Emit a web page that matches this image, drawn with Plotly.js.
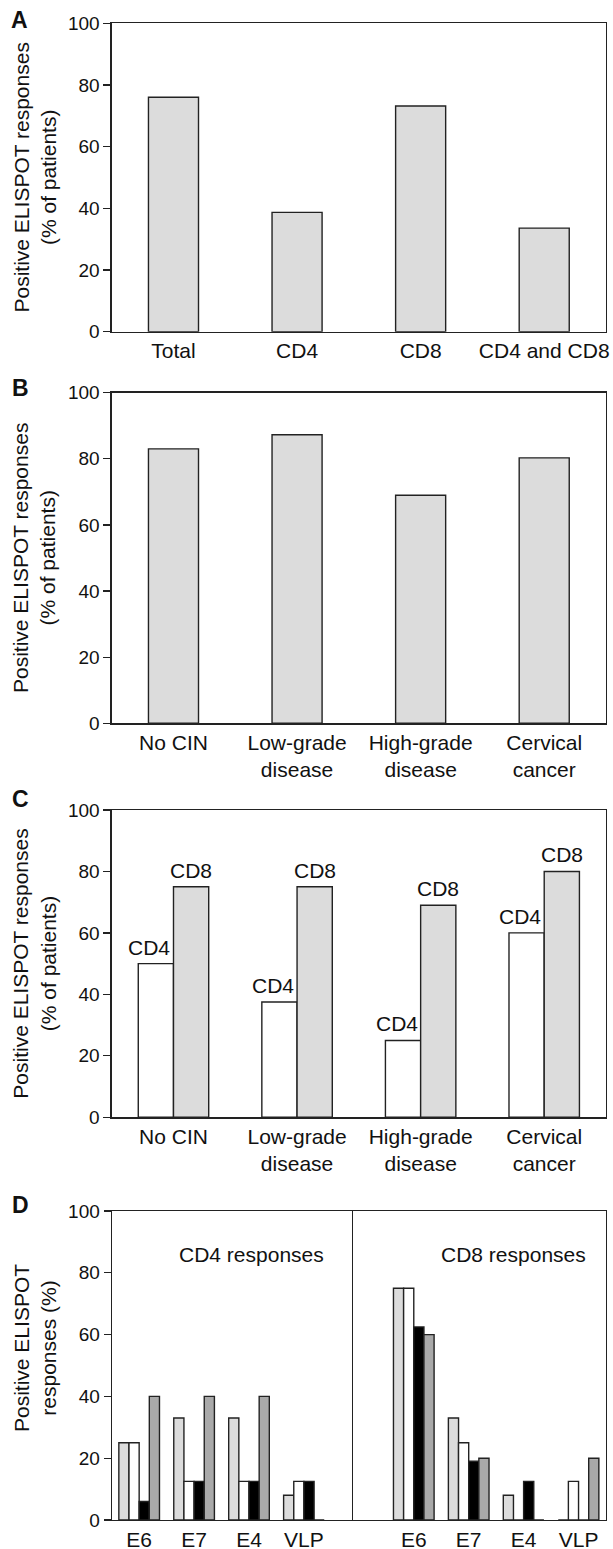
<!DOCTYPE html>
<html>
<head>
<meta charset="utf-8">
<script src="https://cdn.plot.ly/plotly-3.0.1.min.js"></script>
<style>html,body{margin:0;padding:0;background:#fff;}</style>
</head>
<body>
<div id="chart" style="width:613px;height:1549px;"></div>
<script>
// ---------- DATA ----------
const catsA = ['Total', 'CD4', 'CD8', 'CD4 and CD8'];
const valsA = [76, 38.7, 73.2, 33.6];

const catsB = ['No CIN', 'Low-grade<br>disease', 'High-grade<br>disease', 'Cervical<br>cancer'];
const valsB = [83, 87.3, 69, 80.3];

const catsC = ['No CIN', 'Low-grade<br>disease', 'High-grade<br>disease', 'Cervical<br>cancer'];
const cd4C = [50, 37.5, 25, 60];
const cd8C = [75, 75, 69, 80];
const seriesC = ['CD4', 'CD8'];

const antigensD = ['E6', 'E7', 'E4', 'VLP'];
const groupNamesD = ['No CIN', 'Low-grade disease', 'High-grade disease', 'Cervical cancer'];
// CD4 responses
const cd4D_g1 = [25, 33, 33, 8];
const cd4D_g2 = [25, 12.5, 12.5, 12.5];
const cd4D_g3 = [6, 12.5, 12.5, 12.5];
const cd4D_g4 = [40, 40, 40, 0];
// CD8 responses
const cd8D_g1 = [75, 33, 8, 0];
const cd8D_g2 = [75, 25, 0, 12.5];
const cd8D_g3 = [62.5, 19, 12.5, 0];
const cd8D_g4 = [60, 20, 0, 20];

// ---------- LAYOUT HELPERS ----------
const W = 613, H = 1549;
const FONT = 'Liberation Sans, Arial, Helvetica, sans-serif';
const px = x => x / W;
const py = y => 1 - y / H;
const XL = 111.7, XR = 606, XD = 351.5;
const panels = {
  A: [23.3, 331.7],
  B: [392.7, 723.3],
  C: [810, 1117.3],
  D: [1211, 1520]
};
const lineCol = '#222';
const barLine = {color: '#222', width: 1.4};
const colLight = '#dcdcdc', colWhite = '#ffffff', colBlack = '#000000', colGrey = '#a9a9a9';
const groupColorsD = [colLight, colWhite, colBlack, colGrey];
const BW_C = 0.285;

function yAx(panel, anchor, extra) {
  const [t, b] = panels[panel];
  return Object.assign({
    domain: [py(b), py(t)], anchor: anchor, range: [0, 100], dtick: 20,
    ticks: 'outside', ticklen: 7, tickwidth: 1.3, tickcolor: lineCol,
    showline: true, mirror: true, linecolor: lineCol, linewidth: 1.3,
    showgrid: false, zeroline: false, fixedrange: true,
    tickfont: {family: FONT, size: 19, color: '#111'}
  }, extra || {});
}
function xAx(panel, anchor, d0, d1, range, extra) {
  return Object.assign({
    domain: [px(d0), px(d1)], anchor: anchor, type: 'category', range: range,
    ticks: '', showline: true, mirror: true, linecolor: lineCol, linewidth: 1.3,
    showgrid: false, zeroline: false, fixedrange: true,
    tickfont: {family: FONT, size: 21, color: '#111'}
  }, extra || {});
}

// ---------- TRACES ----------
const traces = [];
traces.push({type: 'bar', x: catsA, y: valsA, xaxis: 'x', yaxis: 'y',
  width: 0.405, offset: -0.2025, marker: {color: colLight, line: barLine}});
traces.push({type: 'bar', x: catsB, y: valsB, xaxis: 'x2', yaxis: 'y2',
  width: 0.405, offset: -0.2025, marker: {color: colLight, line: barLine}});
traces.push({type: 'bar', name: seriesC[0], x: catsC, y: cd4C, xaxis: 'x3', yaxis: 'y3',
  width: BW_C, offset: -BW_C, marker: {color: colWhite, line: barLine}});
traces.push({type: 'bar', name: seriesC[1], x: catsC, y: cd8C, xaxis: 'x3', yaxis: 'y3',
  width: BW_C, offset: 0, marker: {color: colLight, line: barLine}});

const cd4D = [cd4D_g1, cd4D_g2, cd4D_g3, cd4D_g4];
const cd8D = [cd8D_g1, cd8D_g2, cd8D_g3, cd8D_g4];
cd4D.forEach((vals, i) => traces.push({type: 'bar', name: groupNamesD[i], x: antigensD, y: vals,
  xaxis: 'x4', yaxis: 'y4', marker: {color: groupColorsD[i], line: barLine}}));
cd8D.forEach((vals, i) => traces.push({type: 'bar', name: groupNamesD[i], x: antigensD, y: vals,
  xaxis: 'x5', yaxis: 'y5', marker: {color: groupColorsD[i], line: barLine}}));

// ---------- ANNOTATIONS ----------
function ann(text, x, y, size, extra) {
  return Object.assign({text: text, xref: 'paper', yref: 'paper', x: px(x), y: py(y),
    xanchor: 'center', yanchor: 'middle', showarrow: false,
    font: {family: FONT, size: size, color: '#111'}}, extra || {});
}
const annotations = [
  ann('<b>A</b>', 19, 20, 23),
  ann('<b>B</b>', 20, 388, 23),
  ann('<b>C</b>', 20, 799, 23),
  ann('<b>D</b>', 20, 1205, 23),
  ann('Positive ELISPOT responses<br>(% of patients)', 34, 177.5, 21, {textangle: -90}),
  ann('Positive ELISPOT responses<br>(% of patients)', 34, 558, 21, {textangle: -90}),
  ann('Positive ELISPOT responses<br>(% of patients)', 34, 963.7, 21, {textangle: -90}),
  ann('Positive ELISPOT<br>responses (%)', 35, 1348, 21, {textangle: -90}),
  ann('CD4 responses', 251.4, 1254, 21),
  ann('CD8 responses', 513.8, 1254, 21)
];
// bar labels in panel C (placed at the data values)
catsC.forEach((c, i) => {
  annotations.push({text: seriesC[0], xref: 'x3', yref: 'y3', x: i, y: cd4C[i],
    xanchor: 'right', yanchor: 'bottom', xshift: -1, yshift: 3, showarrow: false,
    font: {family: FONT, size: 21, color: '#111'}});
  annotations.push({text: seriesC[1], xref: 'x3', yref: 'y3', x: i + BW_C / 2, y: cd8C[i],
    xanchor: 'center', yanchor: 'bottom', yshift: 3, showarrow: false,
    font: {family: FONT, size: 21, color: '#111'}});
});

const layout = {
  width: W, height: H, margin: {l: 0, r: 0, t: 0, b: 0},
  paper_bgcolor: '#fff', plot_bgcolor: '#fff', showlegend: false,
  barmode: 'group', bargap: 0.26, bargroupgap: 0,
  font: {family: FONT, size: 19, color: '#111'},
  xaxis: xAx('A', 'y', XL, XR, [-0.5, 3.5]),
  yaxis: yAx('A', 'x'),
  xaxis2: xAx('B', 'y2', XL, XR, [-0.5, 3.5]),
  yaxis2: yAx('B', 'x2'),
  xaxis3: xAx('C', 'y3', XL, XR, [-0.5, 3.5]),
  yaxis3: yAx('C', 'x3'),
  xaxis4: xAx('D', 'y4', XL, XD, [-0.5, 3.866]),
  yaxis4: yAx('D', 'x4', {linewidth: 1.1}),
  xaxis5: xAx('D', 'y5', XD, XR, [-1.134, 3.5]),
  yaxis5: yAx('D', 'x5', {matches: 'y4', side: 'right', mirror: false, ticks: '', showticklabels: false}),
  annotations: annotations
};

Plotly.newPlot('chart', traces, layout, {displayModeBar: false, staticPlot: true});
</script>
</body>
</html>
